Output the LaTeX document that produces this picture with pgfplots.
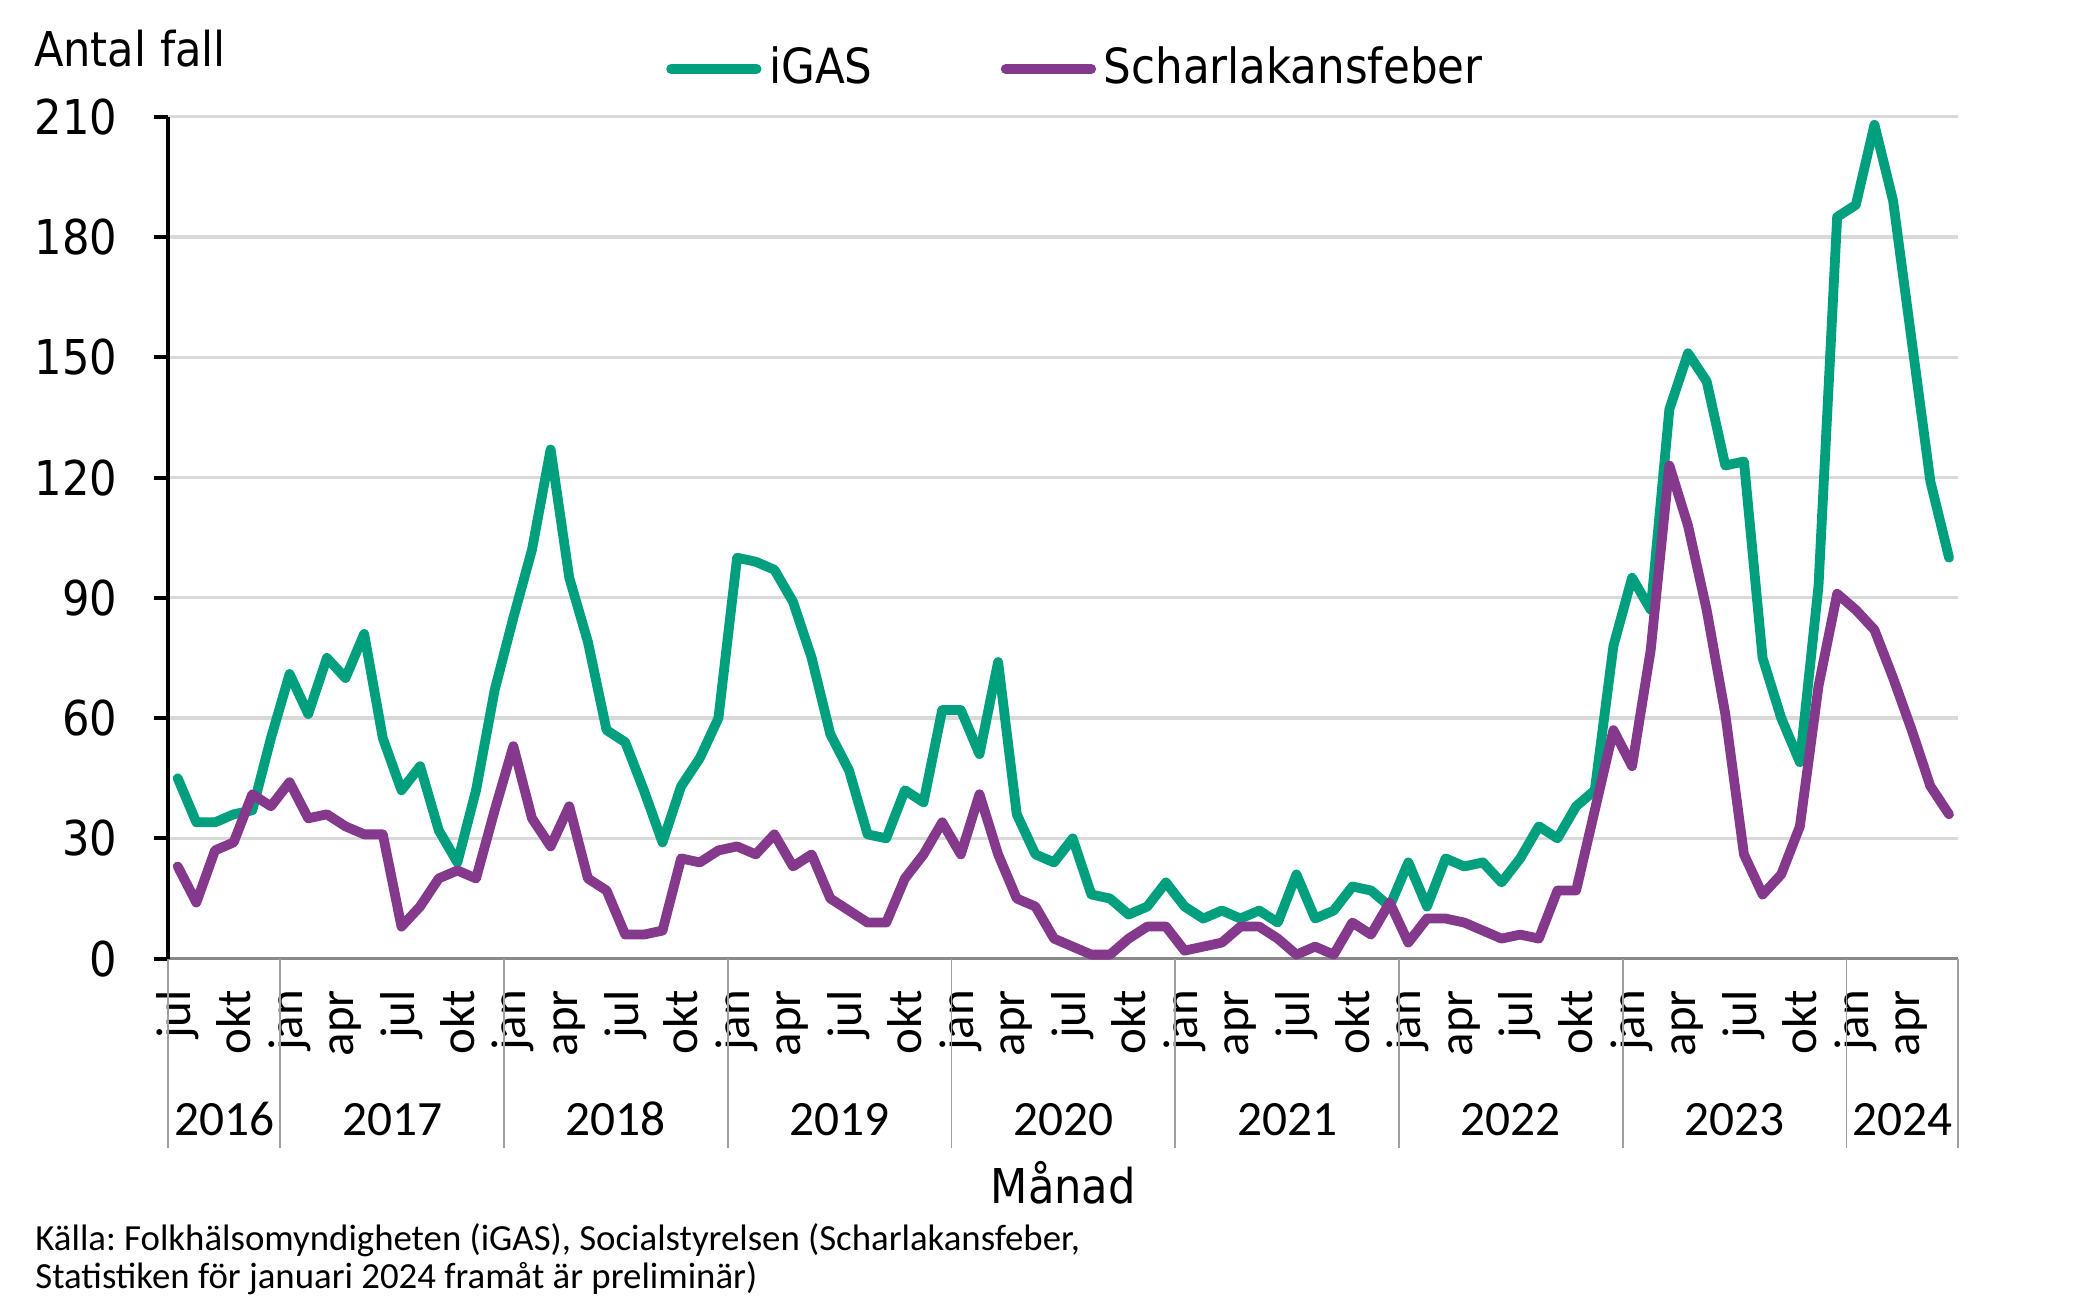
\documentclass[border=0pt]{standalone}
\usepackage{fontspec}
\usepackage{pgfplots}
\usepackage{pgfplotstable}
\pgfplotsset{compat=1.18}
\newfontfamily\tah{DejaVu Sans Condensed}
\newfontfamily\calb{Carlito}
\definecolor{cgreen}{RGB}{0,160,126}
\definecolor{cpurple}{RGB}{133,57,140}
\definecolor{cgrid}{RGB}{217,217,217}
\definecolor{cax}{RGB}{137,137,137}
\definecolor{csep}{RGB}{160,160,160}
\frenchspacing
\pgfplotstableread{
i g p
0 45 23
1 34 14
2 34 27
3 36 29
4 37 41
5 55 38
6 71 44
7 61 35
8 75 36
9 70 33
10 81 31
11 55 31
12 42 8
13 48 13
14 32 20
15 24 22
16 42 20
17 67 37
18 85 53
19 102 35
20 127 28
21 95 38
22 79 20
23 57 17
24 54 6
25 42 6
26 29 7
27 43 25
28 50 24
29 60 27
30 100 28
31 99 26
32 97 31
33 89 23
34 75 26
35 56 15
36 47 12
37 31 9
38 30 9
39 42 20
40 39 26
41 62 34
42 62 26
43 51 41
44 74 26
45 36 15
46 26 13
47 24 5
48 30 3
49 16 1
50 15 1
51 11 5
52 13 8
53 19 8
54 13 2
55 10 3
56 12 4
57 10 8
58 12 8
59 9 5
60 21 1
61 10 3
62 12 1
63 18 9
64 17 6
65 13 14
66 24 4
67 13 10
68 25 10
69 23 9
70 24 7
71 19 5
72 25 6
73 33 5
74 30 17
75 38 17
76 42 37
77 78 57
78 95 48
79 87 77
80 137 123
81 151 108
82 144 87
83 123 61
84 124 26
85 75 16
86 60 21
87 49 33
88 93 68
89 185 91
90 188 87
91 208 82
92 189 70
93 154 57
94 119 43
95 100 36
}\data
\begin{document}
\begin{tikzpicture}
\useasboundingbox (0,0) rectangle (156.8mm,98mm);
\begin{axis}[
  at={(12.7mm,25.7mm)}, anchor=south west,
  scale only axis, width=135mm, height=63.5mm,
  xmin=-0.5, xmax=95.5, ymin=0, ymax=210,
  axis x line*=bottom, axis y line*=left,
  x axis line style={draw=cax, line width=0.5pt},
  y axis line style={draw=black, line width=0.85pt},
  ytick={0,30,...,210},
  yticklabels={0,30,60,90,120,150,180,210},
  ytick align=outside, major tick length=1.1mm,
  ytick style={black, line width=0.85pt},
  ymajorgrids, grid style={cgrid, line width=0.7pt},
  yticklabel style={font=\tah\fontsize{10.3}{12}\selectfont, inner sep=0pt, anchor=east},
  yticklabel shift=2.7mm,
  xtick={0,3,...,93},
  xticklabels={jul,okt,jan,apr,jul,okt,jan,apr,jul,okt,jan,apr,jul,okt,jan,apr,jul,okt,jan,apr,jul,okt,jan,apr,jul,okt,jan,apr,jul,okt,jan,apr},
  xtick style={draw=none},
  xticklabel style={font=\calb\fontsize{10.5}{12}\selectfont, rotate=90, anchor=east, inner sep=0pt},
  xticklabel shift=2.3mm,
  clip=false,
  legend columns=2,
  legend style={at={(rel axis cs:0,1)}, anchor=west, xshift=37.1mm, yshift=3.6mm,
    draw=none, fill=none, inner sep=0pt,
    nodes={inner sep=0pt, font=\tah\fontsize{10.4}{12}\selectfont},
    /tikz/every odd column/.append style={column sep=0.2mm},
    /tikz/every even column/.append style={column sep=9.3mm}},
  legend image code/.code={\path (0mm,0mm) (7.2mm,0mm);\draw[#1, line cap=round] (0.375mm,0mm) -- (6.825mm,0mm);},
]
\addplot[cgreen, line width=2.1pt, line join=round, line cap=round] table[x=i, y=g] {\data};
\addlegendentry{iGAS}
\addplot[cpurple, line width=2.1pt, line join=round, line cap=round] table[x=i, y=p] {\data};
\addlegendentry{Scharlakansfeber}
\pgfplotsinvokeforeach{-0.5,5.5,17.5,29.5,41.5,53.5,65.5,77.5,89.5,95.5}{
  \draw[csep, line width=0.4pt] (axis cs:#1,0) -- ([yshift=-14.3mm]axis cs:#1,0);
}
\node[anchor=base, inner sep=0pt, font=\calb\fontsize{10.6}{12}\selectfont, yshift=-13.35mm] at (axis cs:2.5,0) {2016};
\node[anchor=base, inner sep=0pt, font=\calb\fontsize{10.6}{12}\selectfont, yshift=-13.35mm] at (axis cs:11.5,0) {2017};
\node[anchor=base, inner sep=0pt, font=\calb\fontsize{10.6}{12}\selectfont, yshift=-13.35mm] at (axis cs:23.5,0) {2018};
\node[anchor=base, inner sep=0pt, font=\calb\fontsize{10.6}{12}\selectfont, yshift=-13.35mm] at (axis cs:35.5,0) {2019};
\node[anchor=base, inner sep=0pt, font=\calb\fontsize{10.6}{12}\selectfont, yshift=-13.35mm] at (axis cs:47.5,0) {2020};
\node[anchor=base, inner sep=0pt, font=\calb\fontsize{10.6}{12}\selectfont, yshift=-13.35mm] at (axis cs:59.5,0) {2021};
\node[anchor=base, inner sep=0pt, font=\calb\fontsize{10.6}{12}\selectfont, yshift=-13.35mm] at (axis cs:71.5,0) {2022};
\node[anchor=base, inner sep=0pt, font=\calb\fontsize{10.6}{12}\selectfont, yshift=-13.35mm] at (axis cs:83.5,0) {2023};
\node[anchor=base, inner sep=0pt, font=\calb\fontsize{10.6}{12}\selectfont, yshift=-13.35mm] at (axis cs:92.5,0) {2024};
\end{axis}
\node[anchor=base west, inner sep=0pt, font=\tah\fontsize{10.3}{12}\selectfont] at (2.5mm,92.97mm) {Antal fall};
\node[anchor=base, inner sep=0pt, font=\tah\fontsize{10.3}{12}\selectfont] at (80.2mm,7.25mm) {Månad};
\node[anchor=base west, inner sep=0pt, font=\calb\fontsize{7.9}{10}\selectfont] at (2.6mm,3.7mm) {Källa: Folkhälsomyndigheten (iGAS), Socialstyrelsen (Scharlakansfeber,};
\node[anchor=base west, inner sep=0pt, font=\calb\fontsize{7.9}{10}\selectfont] at (2.6mm,0.85mm) {Statistiken för januari 2024 framåt är preliminär)};
\end{tikzpicture}
\end{document}
